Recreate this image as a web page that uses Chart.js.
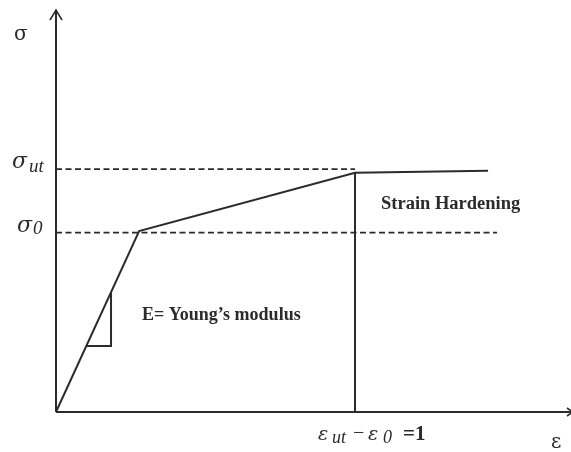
<!DOCTYPE html>
<html>
<head>
<meta charset="utf-8">
<script src="https://cdn.jsdelivr.net/npm/chart.js@4.4.1/dist/chart.umd.min.js"></script>
<style>
  html, body { margin: 0; padding: 0; background: #fff; }
  #wrap { width: 571px; height: 452px; }
</style>
</head>
<body>
<div id="wrap"><canvas id="c" width="571" height="452"></canvas></div>
<script>
// Bilinear stress–strain idealisation (strain in units of eps_ut - eps_0)
const strain = [0, 0.278, 1.0, 1.445];
const stress = [0, 45.0, 59.5, 60.0];

// Reference stress levels
const sigma0 = 44.6;
const sigmaUt = 60.4;
const sigma0LineEnd = 1.475;
const sigmaUtLineEnd = 1.0;

// Slope triangle showing Young's modulus
const triX = [0.101, 0.184, 0.184];
const triY = [16.4, 16.4, 29.8];

// Axis ranges
const xRange = [0, 1.719];
const yRange = [0, 100];

const ink = '#2b2b2b';

const pts = (xs, ys) => xs.map((x, i) => ({ x, y: ys[i] }));

const lineSet = (data, extra) => Object.assign({
  data, showLine: true, borderColor: ink, borderWidth: 2,
  pointRadius: 0, fill: false, tension: 0
}, extra || {});

const decor = {
  id: 'decor',
  afterDatasetsDraw(chart) {
    const { ctx, scales: { x, y } } = chart;
    const px = v => x.getPixelForValue(v);
    const py = v => y.getPixelForValue(v);
    ctx.save();
    ctx.strokeStyle = ink;
    ctx.fillStyle = ink;
    ctx.lineWidth = 2;
    // axes with arrow heads
    const x0 = px(0), y0 = py(0), yTop = py(yRange[1]), xEnd = px(xRange[1]);
    ctx.beginPath();
    ctx.moveTo(x0, y0); ctx.lineTo(x0, yTop);
    ctx.moveTo(x0, y0); ctx.lineTo(xEnd + 1, y0);
    ctx.stroke();
    ctx.lineWidth = 1.6;
    ctx.beginPath();
    ctx.moveTo(x0 - 6, yTop + 10); ctx.lineTo(x0, yTop); ctx.lineTo(x0 + 6, yTop + 10);
    ctx.moveTo(xEnd - 3, y0 - 4); ctx.lineTo(xEnd + 3, y0); ctx.lineTo(xEnd - 3, y0 + 4);
    ctx.stroke();

    ctx.textBaseline = 'alphabetic';
    ctx.textAlign = 'left';
    // axis symbols
    ctx.font = '20px "DejaVu Serif"';
    ctx.fillText('σ', 14, 40);
    ctx.fillText('ε', 551, 448);
    // stress level labels
    ctx.font = 'italic 22px "DejaVu Serif"';
    ctx.fillText('σ', 12, py(sigmaUt) - 1);
    ctx.fillText('σ', 17, py(sigma0) - 1);
    ctx.font = 'italic 19px "Liberation Serif"';
    ctx.fillText('ut', 29, py(sigmaUt) + 3);
    ctx.fillText('0', 33, py(sigma0) + 1);
    // strain label under the x axis
    const by = 440;
    ctx.font = 'italic 19px "DejaVu Serif"';
    ctx.fillText('ε', 318, by);
    ctx.fillText('ε', 368, by);
    ctx.font = 'italic 18px "Liberation Serif"';
    ctx.fillText('ut', 332, by + 3);
    ctx.fillText('0', 383, by + 3);
    ctx.font = '20px "Liberation Serif"';
    ctx.fillText('−', 353, by - 1);
    ctx.font = 'bold 21px "Liberation Serif"';
    ctx.fillText('=1', 403, by);
    // annotations
    ctx.font = 'bold 18.5px "Liberation Serif"';
    ctx.fillText('Strain Hardening', 381, 209);
    ctx.font = 'bold 18px "Liberation Serif"';
    ctx.fillText('E= Young\u2019s modulus', 142, 320);
    ctx.restore();
  }
};

new Chart(document.getElementById('c'), {
  type: 'scatter',
  data: {
    datasets: [
      lineSet(pts(strain, stress)),
      lineSet(pts([strain[2], strain[2]], [0, stress[2]])),
      lineSet(pts([0, sigmaUtLineEnd], [sigmaUt, sigmaUt]), { borderDash: [6, 3.5], borderWidth: 1.8 }),
      lineSet(pts([0, sigma0LineEnd], [sigma0, sigma0]), { borderDash: [6, 3.5], borderWidth: 1.8 }),
      lineSet(pts(triX, triY))
    ]
  },
  options: {
    responsive: false,
    animation: false,
    layout: { padding: { left: 56, right: 1, top: 10, bottom: 40 } },
    plugins: { legend: { display: false }, tooltip: { enabled: false } },
    scales: {
      x: { type: 'linear', display: false, min: xRange[0], max: xRange[1] },
      y: { type: 'linear', display: false, min: yRange[0], max: yRange[1] }
    }
  },
  plugins: [decor]
});
</script>
</body>
</html>
